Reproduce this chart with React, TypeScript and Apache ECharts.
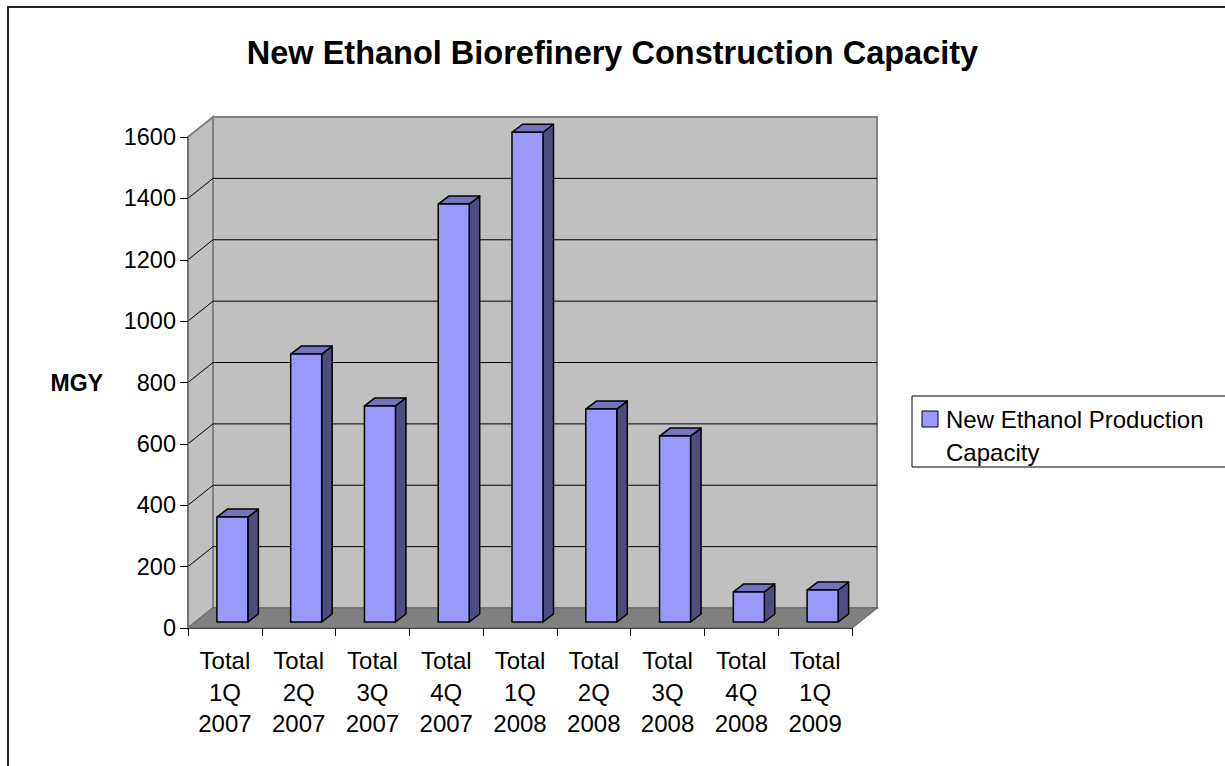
import React, { useEffect, useRef } from "react";
import * as echarts from "echarts";

const categories = [
  "Total\n1Q\n2007",
  "Total\n2Q\n2007",
  "Total\n3Q\n2007",
  "Total\n4Q\n2007",
  "Total\n1Q\n2008",
  "Total\n2Q\n2008",
  "Total\n3Q\n2008",
  "Total\n4Q\n2008",
  "Total\n1Q\n2009",
];
const capacity = [342, 873, 704, 1362, 1596, 694, 606, 98, 104];
const yTicks = [0, 200, 400, 600, 800, 1000, 1200, 1400, 1600];
const seriesName = "New Ethanol Production Capacity";
const titleText = "New Ethanol Biorefinery Construction Capacity";
const yName = "MGY";

const FONT = "'Liberation Sans', Arial, sans-serif";
const DEPTH_X = 25;
const DEPTH_Y = -20;
const BAR_OFF_X = 7.5;
const BAR_OFF_Y = -6;
const BAR_DX = 10.5;
const BAR_DY = -8;

export default function App() {
  const ref = useRef<HTMLDivElement>(null);
  useEffect(() => {
    if (!ref.current) return;
    const chart = echarts.init(ref.current, null, { renderer: "svg" });
    const option: any = {
      animation: false,
      backgroundColor: "#ffffff",
      title: {
        text: titleText,
        left: "center",
        top: 35,
        padding: 0,
        textStyle: { fontFamily: FONT, fontSize: 32.5, fontWeight: "bold", color: "#000", lineHeight: 36 },
      },
      grid: { left: 188, top: 137, width: 664, height: 491, containLabel: false },
      xAxis: {
        type: "category",
        data: categories,
        boundaryGap: true,
        z: 10,
        axisLine: { show: true, lineStyle: { color: "#404040", width: 1 } },
        axisTick: { show: true, length: 8, lineStyle: { color: "#000" } },
        axisLabel: {
          interval: 0,
          margin: 17,
          fontFamily: FONT,
          fontSize: 24,
          lineHeight: 31.5,
          color: "#000",
        },
        splitLine: { show: false },
      },
      yAxis: {
        type: "value",
        min: 0,
        max: 1600,
        interval: 200,
        z: 10,
        name: yName,
        nameLocation: "middle",
        nameRotate: 0,
        nameGap: 85,
        nameTextStyle: { fontFamily: FONT, fontSize: 23, fontWeight: "bold", color: "#000" },
        axisLine: { show: true, lineStyle: { color: "#707070", width: 1.5 } },
        axisTick: { show: true, length: 8, lineStyle: { color: "#000" } },
        axisLabel: {
          margin: 12,
          fontFamily: FONT,
          fontSize: 23.5,
          color: "#000",
          formatter: (v: number) => String(v),
        },
        splitLine: { show: false },
      },
      series: [
        {
          type: "custom",
          name: "walls",
          silent: true,
          clip: false,
          z: 1,
          data: [[0, 0]],
          renderItem: (params: any) => {
            const cs = params.coordSys;
            const x0 = cs.x;
            const x1 = cs.x + cs.width;
            const yt = cs.y;
            const yb = cs.y + cs.height;
            return {
              type: "group",
              children: [
                {
                  type: "polygon",
                  shape: {
                    points: [
                      [x0, yb],
                      [x0 + DEPTH_X, yb + DEPTH_Y],
                      [x0 + DEPTH_X, yt + DEPTH_Y],
                      [x0, yt],
                    ],
                  },
                  style: { fill: "#c0c0c0", stroke: "#808080", lineWidth: 2 },
                },
                {
                  type: "rect",
                  shape: { x: x0 + DEPTH_X, y: yt + DEPTH_Y, width: cs.width, height: cs.height },
                  style: { fill: "#c0c0c0", stroke: "#808080", lineWidth: 2 },
                },
                {
                  type: "polygon",
                  shape: {
                    points: [
                      [x0, yb],
                      [x1, yb],
                      [x1 + DEPTH_X, yb + DEPTH_Y],
                      [x0 + DEPTH_X, yb + DEPTH_Y],
                    ],
                  },
                  style: { fill: "#808080", stroke: "#707070", lineWidth: 1.5 },
                },
              ],
            };
          },
        },
        {
          type: "custom",
          name: "gridlines",
          silent: true,
          clip: false,
          z: 1,
          data: yTicks.filter((v) => v > 0 && v < 1600).map((v) => [0, v]),
          encode: { x: 0, y: 1 },
          renderItem: (params: any, api: any) => {
            const cs = params.coordSys;
            const y = api.coord([0, api.value(1)])[1];
            const x0 = cs.x;
            const x1 = cs.x + cs.width;
            return {
              type: "group",
              children: [
                {
                  type: "line",
                  shape: { x1: x0, y1: y, x2: x0 + DEPTH_X, y2: y + DEPTH_Y },
                  style: { stroke: "#000", lineWidth: 1 },
                },
                {
                  type: "line",
                  shape: { x1: x0 + DEPTH_X, y1: y + DEPTH_Y, x2: x1 + DEPTH_X, y2: y + DEPTH_Y },
                  style: { stroke: "#000", lineWidth: 1 },
                },
              ],
            };
          },
        },
        {
          type: "custom",
          name: seriesName,
          clip: false,
          z: 3,
          data: capacity.map((v, i) => [i, v]),
          encode: { x: 0, y: 1 },
          renderItem: (params: any, api: any) => {
            const i = api.value(0);
            const v = api.value(1);
            const base = api.coord([i, 0]);
            const top = api.coord([i, v]);
            const bw = api.size([1, 0])[0] * 0.42;
            const cx = base[0] + BAR_OFF_X;
            const L = cx - bw / 2;
            const R = cx + bw / 2;
            const B = base[1] + BAR_OFF_Y;
            const T = top[1] + BAR_OFF_Y;
            const stroke = { stroke: "#000", lineWidth: 1.5, lineJoin: "round" };
            return {
              type: "group",
              children: [
                {
                  type: "polygon",
                  shape: { points: [[R, T], [R + BAR_DX, T + BAR_DY], [R + BAR_DX, B + BAR_DY], [R, B]] },
                  style: { fill: "#4d4d80", ...stroke },
                },
                {
                  type: "polygon",
                  shape: { points: [[L, T], [L + BAR_DX, T + BAR_DY], [R + BAR_DX, T + BAR_DY], [R, T]] },
                  style: { fill: "#7373bf", ...stroke },
                },
                {
                  type: "rect",
                  shape: { x: L, y: T, width: R - L, height: B - T },
                  style: { fill: "#9999ff", ...stroke },
                },
              ],
            };
          },
        },
      ],
      graphic: [
        {
          type: "rect",
          shape: { x: 8, y: 7, width: 1400, height: 1000 },
          style: { fill: "none", stroke: "#222", lineWidth: 2 },
          silent: true,
          z: 0,
        },
        {
          type: "rect",
          shape: { x: 912, y: 396, width: 400, height: 71 },
          style: { fill: "#fff", stroke: "#000", lineWidth: 1 },
          z: 5,
        },
        {
          type: "rect",
          shape: { x: 922, y: 411, width: 16, height: 16 },
          style: { fill: "#9999ff", stroke: "#000", lineWidth: 1 },
          z: 6,
        },
        {
          type: "text",
          x: 946,
          y: 403,
          z: 6,
          style: {
            text: "New Ethanol Production\nCapacity",
            fontFamily: FONT,
            fontSize: 24,
            lineHeight: 33,
            fill: "#000",
            textAlign: "left",
            textVerticalAlign: "top",
          },
        },
      ],
    };
    chart.setOption(option);
    return () => chart.dispose();
  }, []);
  return (
    <div
      ref={ref}
      style={{ position: "fixed", left: 0, top: 0, width: 1225, height: 766 }}
    />
  );
}
